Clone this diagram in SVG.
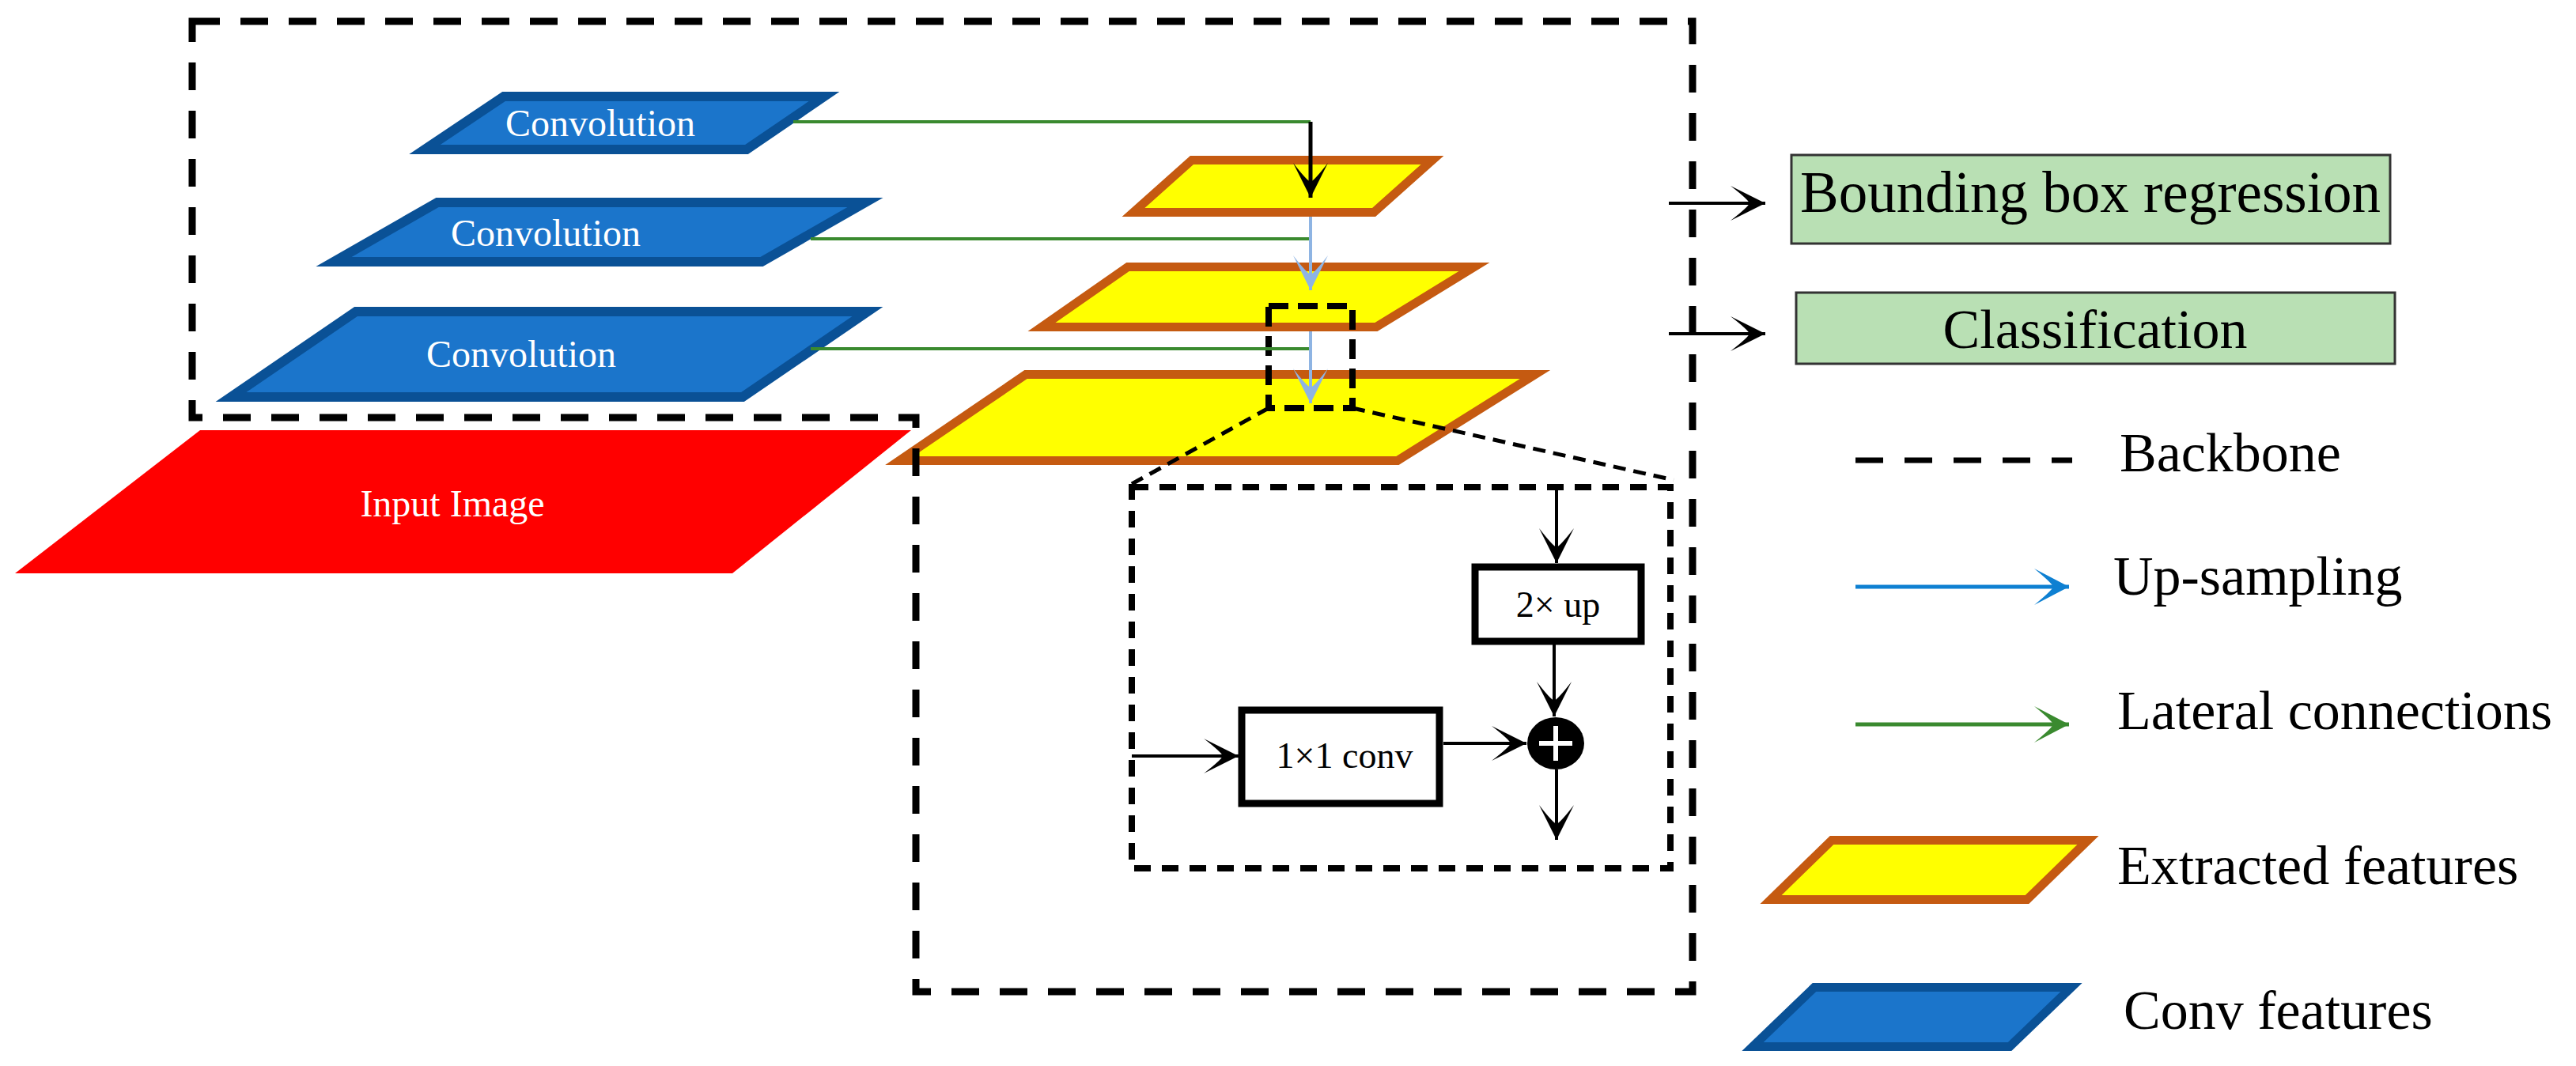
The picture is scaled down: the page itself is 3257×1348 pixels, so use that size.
<svg xmlns="http://www.w3.org/2000/svg" width="3257" height="1348" viewBox="0 0 3257 1348">
<defs>
<style>
text{font-family:"Liberation Serif","Times New Roman",serif;}
.conv{fill:#1B75CB;stroke:#0A5196;stroke-width:12;stroke-linejoin:miter}
.feat{fill:#FFFF00;stroke:#C55A11;stroke-width:11;stroke-linejoin:miter}
.wt{fill:#fff;font-size:48px;text-anchor:middle}
.box{fill:#fff;stroke:#000;stroke-width:9}
.head{fill:#B9E0B4;stroke:#333;stroke-width:3}
.lbl{fill:#000;font-size:70px}
.mid{fill:#000;font-size:46px;text-anchor:middle}
.blk{stroke:#000;stroke-width:4;fill:none}
.grn{stroke:#3A8A2F;stroke-width:4;fill:none}
.lb{stroke:#8EB4E3;stroke-width:4;fill:none}
.bigdash{fill:none;stroke:#000;stroke-width:9;stroke-dasharray:35 26}
.indash{fill:none;stroke:#000;stroke-width:8;stroke-dasharray:21 14}
.thin{fill:none;stroke:#000;stroke-width:5;stroke-dasharray:16 10}
</style>
<marker id="ab" markerUnits="userSpaceOnUse" markerWidth="48" markerHeight="50" viewBox="-46 -25 48 50" refX="0" refY="0" orient="auto">
<path d="M0,0 L-44,-22 Q-22,-5 -20,0 Q-22,5 -44,22 Z" fill="#000"/>
</marker>
<marker id="al" markerUnits="userSpaceOnUse" markerWidth="48" markerHeight="50" viewBox="-46 -25 48 50" refX="0" refY="0" orient="auto">
<path d="M0,0 L-44,-22 Q-22,-5 -20,0 Q-22,5 -44,22 Z" fill="#8EB4E3"/>
</marker>
<marker id="au" markerUnits="userSpaceOnUse" markerWidth="48" markerHeight="50" viewBox="-46 -25 48 50" refX="0" refY="0" orient="auto">
<path d="M0,0 L-44,-23 Q-22,-5 -20,0 Q-22,5 -44,23 Z" fill="#0E80D2"/>
</marker>
<marker id="ag" markerUnits="userSpaceOnUse" markerWidth="48" markerHeight="50" viewBox="-46 -25 48 50" refX="0" refY="0" orient="auto">
<path d="M0,0 L-44,-23 Q-22,-5 -20,0 Q-22,5 -44,23 Z" fill="#3A8A2F"/>
</marker>
</defs>
<rect width="3257" height="1348" fill="#fff"/>

<g id="input-image">
<polygon points="253,544 1152,544 926,725 19,725" fill="#FF0000"/>
<text class="wt" x="572" y="653" font-size="47">Input Image</text>
</g>

<g id="conv1">
<polygon class="conv" points="637,122 1042,122 944,189 537,189"/>
<text class="wt" x="759" y="172">Convolution</text>
</g>
<g id="conv2">
<polygon class="conv" points="553,256 1094,256 963,331 422,331"/>
<text class="wt" x="690" y="311">Convolution</text>
</g>
<g id="conv3">
<polygon class="conv" points="450,394 1097,394 939,502 292,502"/>
<text class="wt" x="659" y="464">Convolution</text>
</g>

<g id="feature1">
<polygon class="feat" points="1507,202.5 1811,202.5 1737,268.5 1433,268.5"/>
</g>
<g id="feature2">
<polygon class="feat" points="1426,337.5 1864,337.5 1740,413.5 1317,413.5"/>
</g>
<g id="feature3">
<polygon class="feat" points="1297,473.5 1941,473.5 1767,582.5 1137,582.5"/>
</g>

<g id="backbone">
<path class="bigdash" d="M243,27 H2140 V1254 H1158 V528 H243 Z"/>
</g>

<g id="zoom-region">
<rect class="indash" x="1604" y="387" width="106" height="129" style="stroke-dasharray:25 12"/>
<line class="thin" x1="1604" y1="516" x2="1431" y2="612"/>
<line class="thin" x1="1710" y1="516" x2="2116" y2="607"/>
<rect class="indash" x="1431" y="616" width="681" height="482"/>
</g>

<g id="up2x">
<rect class="box" x="1865" y="717" width="210" height="94"/>
<text class="mid" x="1970" y="780">2× up</text>
</g>
<g id="conv1x1">
<rect class="box" x="1570" y="898" width="250" height="118"/>
<text class="mid" x="1700" y="971">1×1 conv</text>
</g>
<g id="sum">
<ellipse cx="1967" cy="940" rx="36" ry="33" fill="#000"/>
<line x1="1946" y1="940" x2="1988" y2="940" stroke="#fff" stroke-width="6"/>
<line x1="1967" y1="918" x2="1967" y2="962" stroke="#fff" stroke-width="6"/>
</g>

<g id="bbox-regression">
<rect class="head" x="2265" y="196" width="757" height="112"/>
<text x="2643" y="268" font-size="73" text-anchor="middle">Bounding box regression</text>
</g>
<g id="classification">
<rect class="head" x="2271" y="370" width="757" height="90"/>
<text x="2649" y="440" font-size="70" text-anchor="middle">Classification</text>
</g>

<g id="connectors">
<polyline class="grn" points="1003,154 1657,154"/>
<line class="blk" x1="1657" y1="154" x2="1657" y2="250" marker-end="url(#ab)" style="stroke-width:5"/>
<line class="grn" x1="1025" y1="302" x2="1655" y2="302"/>
<line class="grn" x1="1025" y1="441" x2="1655" y2="441"/>
<line class="lb" x1="1657" y1="274" x2="1657" y2="367" marker-end="url(#al)"/>
<line class="lb" x1="1657" y1="419" x2="1657" y2="510" marker-end="url(#al)"/>
<line class="blk" x1="2110" y1="257" x2="2232" y2="257" marker-end="url(#ab)"/>
<line class="blk" x1="2110" y1="422" x2="2232" y2="422" marker-end="url(#ab)"/>
<line class="blk" x1="1968" y1="616" x2="1968" y2="712" marker-end="url(#ab)"/>
<line class="blk" x1="1965" y1="815" x2="1965" y2="906" marker-end="url(#ab)"/>
<line class="blk" x1="1431" y1="956" x2="1566" y2="956" marker-end="url(#ab)"/>
<line class="blk" x1="1825" y1="940" x2="1930" y2="940" marker-end="url(#ab)"/>
<line class="blk" x1="1968" y1="973" x2="1968" y2="1062" marker-end="url(#ab)"/>
</g>

<g id="legend">
<g id="legend-backbone">
<line x1="2346" y1="582" x2="2620" y2="582" stroke="#000" stroke-width="7" stroke-dasharray="35 27"/>
<text class="lbl" x="2680" y="596">Backbone</text>
</g>
<g id="legend-upsampling">
<line x1="2346" y1="742" x2="2616" y2="742" stroke="#0E80D2" stroke-width="5" marker-end="url(#au)"/>
<text class="lbl" x="2672" y="752">Up-sampling</text>
</g>
<g id="legend-lateral">
<line x1="2346" y1="916" x2="2616" y2="916" stroke="#3A8A2F" stroke-width="5" marker-end="url(#ag)"/>
<text class="lbl" x="2677" y="922">Lateral connections</text>
</g>
<g id="legend-extracted">
<polygon class="feat" points="2316,1062.5 2640,1062.5 2563,1137.5 2239,1137.5"/>
<text class="lbl" x="2677" y="1118">Extracted features</text>
</g>
<g id="legend-conv">
<polygon class="conv" style="stroke-width:11" points="2294,1248.5 2619,1248.5 2541,1323.5 2216,1323.5"/>
<text class="lbl" x="2685" y="1301">Conv features</text>
</g>
</g>
</svg>
